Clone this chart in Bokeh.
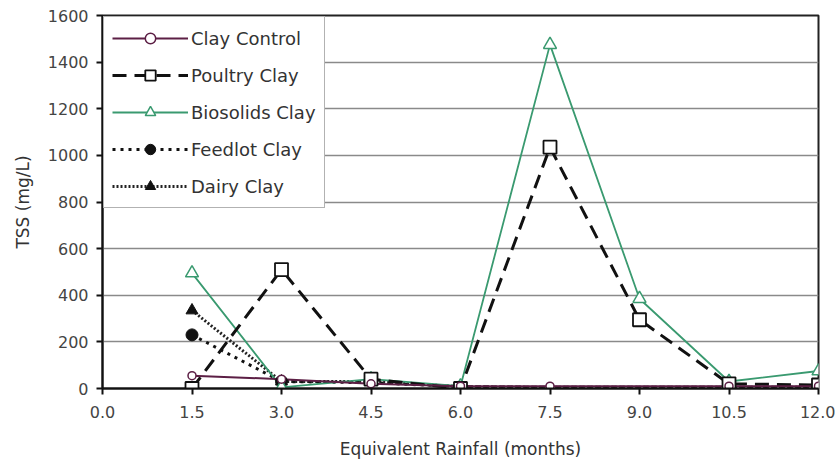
from bokeh.plotting import figure
from bokeh.models import FixedTicker, NumeralTickFormatter, Legend, LegendItem, Range1d
from bokeh.embed import file_html
from bokeh.resources import INLINE

# Equivalent rainfall (months) and TSS (mg/L) per treatment
months = [1.5, 3.0, 4.5, 6.0, 7.5, 9.0, 10.5, 12.0]
clay_control_x = [1.5, 3.0, 4.5, 6.0, 7.5, 10.5, 12.0]
clay_control = [55, 40, 20, 10, 10, 10, 10]
poultry_clay = [0, 510, 40, 0, 1035, 295, 20, 15]
biosolids_clay = [495, 5, 40, 10, 1475, 385, 30, 75]
feedlot_clay = [230, 30, 25, 8, 5, 5, 5, 5]
dairy_clay = [335, 30, 30, 8, 5, 5, 5, 5]

x_ticks = [0.0, 1.5, 3.0, 4.5, 6.0, 7.5, 9.0, 10.5, 12.0]
y_ticks = [0, 200, 400, 600, 800, 1000, 1200, 1400, 1600]

FONT = "DejaVu Sans"

p = figure(width=835, height=467, output_backend="svg", toolbar_location=None,
           x_range=Range1d(0, 12), y_range=Range1d(0, 1600),
           min_border_left=102, min_border_right=17, min_border_top=15, min_border_bottom=79)
p.background_fill_color = "white"
p.border_fill_color = "white"
p.outline_line_color = "#222222"
p.outline_line_width = 2

p.xgrid.grid_line_color = None
p.ygrid.grid_line_color = "#8a8a8a"
p.ygrid.grid_line_width = 1.5
p.ygrid.ticker = FixedTicker(ticks=y_ticks)

p.xaxis.ticker = FixedTicker(ticks=x_ticks)
p.xaxis.formatter = NumeralTickFormatter(format="0.0")
p.yaxis.ticker = FixedTicker(ticks=y_ticks)
for ax in (p.xaxis[0], p.yaxis[0]):
    ax.axis_line_color = "#111111"
    ax.axis_line_width = 2
    ax.major_tick_line_color = "#111111"
    ax.major_tick_line_width = 2
    ax.major_tick_in = 0
    ax.major_tick_out = 6
    ax.minor_tick_line_color = None
    ax.major_label_text_font = FONT
    ax.major_label_text_font_size = "16px"
    ax.major_label_text_color = "#444444"
    ax.axis_label_text_font = FONT
    ax.axis_label_text_font_size = "17px"
    ax.axis_label_text_font_style = "normal"
    ax.axis_label_text_color = "#333333"
p.xaxis.axis_label = "Equivalent Rainfall (months)"
p.yaxis.axis_label = "TSS (mg/L)"
p.xaxis.major_label_standoff = 11
p.xaxis.axis_label_standoff = 18
p.yaxis.major_label_standoff = 8
p.yaxis.axis_label_standoff = 12

GREEN = "#3a9a70"
MAROON = "#5c1f45"

# Series lines
l_dairy = p.line(months, dairy_clay, line_color="#222222", line_width=3, line_dash="2 2")
l_feed = p.line(months, feedlot_clay, line_color="#111111", line_width=3, line_dash="3 5")
l_bio = p.line(months, biosolids_clay, line_color=GREEN, line_width=1.8)
l_poul = p.line(months, poultry_clay, line_color="#111111", line_width=3, line_dash="14 8")
l_ctrl = p.line(clay_control_x, clay_control, line_color=MAROON, line_width=2)

# Series markers
m_dairy = p.scatter(months[:2], dairy_clay[:2], marker="triangle", size=12,
                    fill_color="#111111", line_color="#111111")
m_feed = p.scatter(months[:2], feedlot_clay[:2], marker="circle", size=12,
                   fill_color="#111111", line_color="#111111")
m_bio = p.scatter(months, biosolids_clay, marker="triangle", size=13,
                  fill_color="white", line_color=GREEN, line_width=1.5)
m_poul = p.scatter(months, poultry_clay, marker="square", size=13,
                   fill_color="white", line_color="#111111", line_width=1.8)
m_ctrl = p.scatter(clay_control_x, clay_control, marker="circle", size=8,
                   fill_color="white", line_color=MAROON, line_width=1.5)

legend = Legend(items=[
    LegendItem(label="Clay Control", renderers=[l_ctrl, m_ctrl]),
    LegendItem(label="Poultry Clay", renderers=[l_poul, m_poul]),
    LegendItem(label="Biosolids Clay", renderers=[l_bio, m_bio]),
    LegendItem(label="Feedlot Clay", renderers=[l_feed, m_feed]),
    LegendItem(label="Dairy Clay", renderers=[l_dairy, m_dairy]),
], location="top_left")
legend.margin = 1
legend.padding = 8
legend.spacing = 11
legend.label_height = 26
legend.glyph_height = 26
legend.glyph_width = 76
legend.label_standoff = 3
legend.label_text_font = FONT
legend.label_text_font_size = "18px"
legend.label_text_color = "#333333"
legend.border_line_color = "#666666"
legend.border_line_width = 1.5
legend.background_fill_color = "white"
legend.background_fill_alpha = 1.0
p.add_layout(legend)

open("out.html", "w").write(file_html(p, INLINE))
